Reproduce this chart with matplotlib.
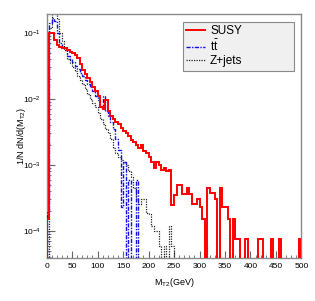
import numpy as np
import matplotlib
matplotlib.use("Agg")
import matplotlib.pyplot as plt
from matplotlib.ticker import LogLocator, MultipleLocator, LogFormatterMathtext, NullFormatter

plt.rcParams['font.family'] = ['Liberation Sans', 'DejaVu Sans']
plt.rcParams['mathtext.default'] = 'regular'

bin_edges = np.arange(0, 505, 5)

susy = [1.5e-4, 0.10, 0.10, 0.078, 0.066, 0.062, 0.060, 0.058, 0.055, 0.052,
        0.050, 0.047, 0.042, 0.034, 0.027, 0.024, 0.021, 0.018, 0.015, 0.013,
        0.011, 0.0076, 0.0070, 0.0096, 0.0066, 0.0055, 0.0050, 0.0045, 0.0042, 0.0036,
        0.0033, 0.0030, 0.0027, 0.0024, 0.0022, 0.0020, 0.0018, 0.0020, 0.0016, 0.0015,
        0.0013, 0.0011, 0.0009, 0.0011, 0.0010, 0.00085, 0.00090, 0.00080, 0.00085, 0.00025,
        0.00035, 0.00050, 0.00050, 0.00036, 0.00036, 0.00045, 0.00036, 0.00026, 0.00026, 0.00030,
        0.00023, 0.00015, 0.0, 0.00045, 0.00037, 0.00037, 0.00030, 0.0, 0.00045, 0.00023,
        0.00023, 0.00015, 0.0, 0.00015, 7.5e-5, 7.5e-5, 0.0, 0.0, 7.5e-5, 0.0,
        0.0, 0.0, 0.0, 7.5e-5, 7.5e-5, 0.0, 0.0, 0.0, 7.5e-5, 0.0,
        0.0, 7.5e-5, 0.0, 0.0, 0.0, 0.0, 0.0, 0.0, 0.0, 7.5e-5]

ttbar = [2.0e-4, 0.14, 0.17, 0.15, 0.10, 0.070, 0.062, 0.058, 0.045, 0.040,
         0.036, 0.032, 0.028, 0.025, 0.022, 0.019, 0.017, 0.015, 0.013, 0.011,
         0.0095, 0.0075, 0.011, 0.0065, 0.0055, 0.0045, 0.0035, 0.0025, 0.0017, 0.00023,
         0.0011, 0.0, 0.0006, 0.0, 0.0, 0.0006, 0.0, 0.0, 0.0, 0.0,
         0.0, 0.0, 0.0, 0.0, 0.0, 0.0, 0.0, 0.0, 0.0, 0.0,
         0.0, 0.0, 0.0, 0.0, 0.0, 0.0, 0.0, 0.0, 0.0, 0.0,
         0.0, 0.0, 0.0, 0.0, 0.0, 0.0, 0.0, 0.0, 0.0, 0.0,
         0.0, 0.0, 0.0, 0.0, 0.0, 0.0, 0.0, 0.0, 0.0, 0.0,
         0.0, 0.0, 0.0, 0.0, 0.0, 0.0, 0.0, 0.0, 0.0, 0.0,
         0.0, 0.0, 0.0, 0.0, 0.0, 0.0, 0.0, 0.0, 0.0, 0.0]

zjets = [0.0, 0.12, 0.21, 0.22, 0.16, 0.10, 0.075, 0.055, 0.040, 0.035,
         0.030, 0.026, 0.022, 0.019, 0.017, 0.014, 0.012, 0.010, 0.0087, 0.0075,
         0.0062, 0.0050, 0.0042, 0.0035, 0.0030, 0.0025, 0.0018, 0.0015, 0.0013, 0.0012,
         0.0011, 0.0010, 0.0008, 0.00065, 0.00045, 0.00030, 0.00026, 0.00030, 0.00030, 0.00019,
         0.00018, 0.00012, 0.00010, 0.00010, 6e-5, 0.0, 6e-5, 0.0, 0.00012, 6e-5,
         0.0, 0.0, 0.0, 0.0, 0.0, 0.0, 0.0, 0.0, 0.0, 0.0,
         0.0, 0.0, 6e-5, 0.0, 0.0, 0.0, 0.0, 0.0, 0.0, 0.0,
         0.0, 0.0, 0.0, 0.0, 0.0, 0.0, 0.0, 0.0, 0.0, 0.0,
         0.0, 0.0, 0.0, 0.0, 0.0, 0.0, 0.0, 0.0, 0.0, 0.0,
         0.0, 0.0, 0.0, 0.0, 0.0, 0.0, 0.0, 0.0, 0.0, 0.0]

labels = ["SUSY", r"$\mathregular{t\bar{t}}$", "Z+jets"]

fig = plt.figure(figsize=(3.15, 3.01), dpi=100)
ax = fig.add_axes([0.148, 0.143, 0.809, 0.811])

def pos(v):
    v = np.asarray(v, dtype=float)
    return np.where(v > 0, v, 1e-9)

ax.stairs(pos(zjets), bin_edges, baseline=1e-9, color='#222222', lw=0.9,
          linestyle=(0, (1, 1)), label=labels[2], zorder=2)
ax.stairs(pos(ttbar), bin_edges, baseline=1e-9, color='#1010e0', lw=1.0,
          linestyle=(0, (3, 1, 1, 1)), label=labels[1], zorder=3)
ax.stairs(pos(susy), bin_edges, baseline=1e-9, color='#ff0000', lw=1.4,
          label=labels[0], zorder=4)

ax.set_yscale('log')
ax.set_xlim(0, 500)
ax.set_ylim(3.9e-5, 0.194)

for s in ax.spines.values():
    s.set_color('#8a8a8a')
    s.set_linewidth(1.0)

ax.xaxis.set_major_locator(MultipleLocator(50))
ax.xaxis.set_minor_locator(MultipleLocator(10))
ax.yaxis.set_major_locator(LogLocator(base=10, numticks=10))
ax.yaxis.set_minor_locator(LogLocator(base=10, subs=np.arange(2, 10), numticks=20))
ax.yaxis.set_major_formatter(LogFormatterMathtext())
ax.yaxis.set_minor_formatter(NullFormatter())

ax.tick_params(axis='both', which='both', direction='in', colors='#666666',
               labelcolor='black', labelsize=6)
ax.tick_params(axis='x', which='major', length=5, width=0.8, pad=3.5)
ax.tick_params(axis='x', which='minor', length=2.5, width=0.6)
ax.tick_params(axis='y', which='major', length=6, width=0.8, pad=4)
ax.tick_params(axis='y', which='minor', length=3, width=0.6)
ax.tick_params(top=False, right=False, which='both')

ax.set_xlabel(r"M$_{\mathregular{T2}}$(GeV)", fontsize=6.5)
ax.xaxis.set_label_coords(0.5, -0.075)
ax.set_ylabel(r"1/N dN/d(M$_{\mathregular{T2}}$)", fontsize=6.5)
ax.yaxis.set_label_coords(-0.075, 0.5)

handles, labs = ax.get_legend_handles_labels()
order = [2, 1, 0]
leg = ax.legend([handles[i] for i in order], [labs[i] for i in order],
                loc='upper left', bbox_to_anchor=(0.535, 0.779, 0.436, 0.188),
                mode='expand', fontsize=8.5,
                frameon=True, fancybox=False, framealpha=1, borderpad=0.3,
                labelspacing=0.1, handlelength=1.6, handletextpad=0.4,
                borderaxespad=0.0)
fr = leg.get_frame()
fr.set_facecolor('#f0f0f0')
fr.set_edgecolor('#8a8a8a')
fr.set_linewidth(0.8)

fig.savefig("out.png", dpi=100)
